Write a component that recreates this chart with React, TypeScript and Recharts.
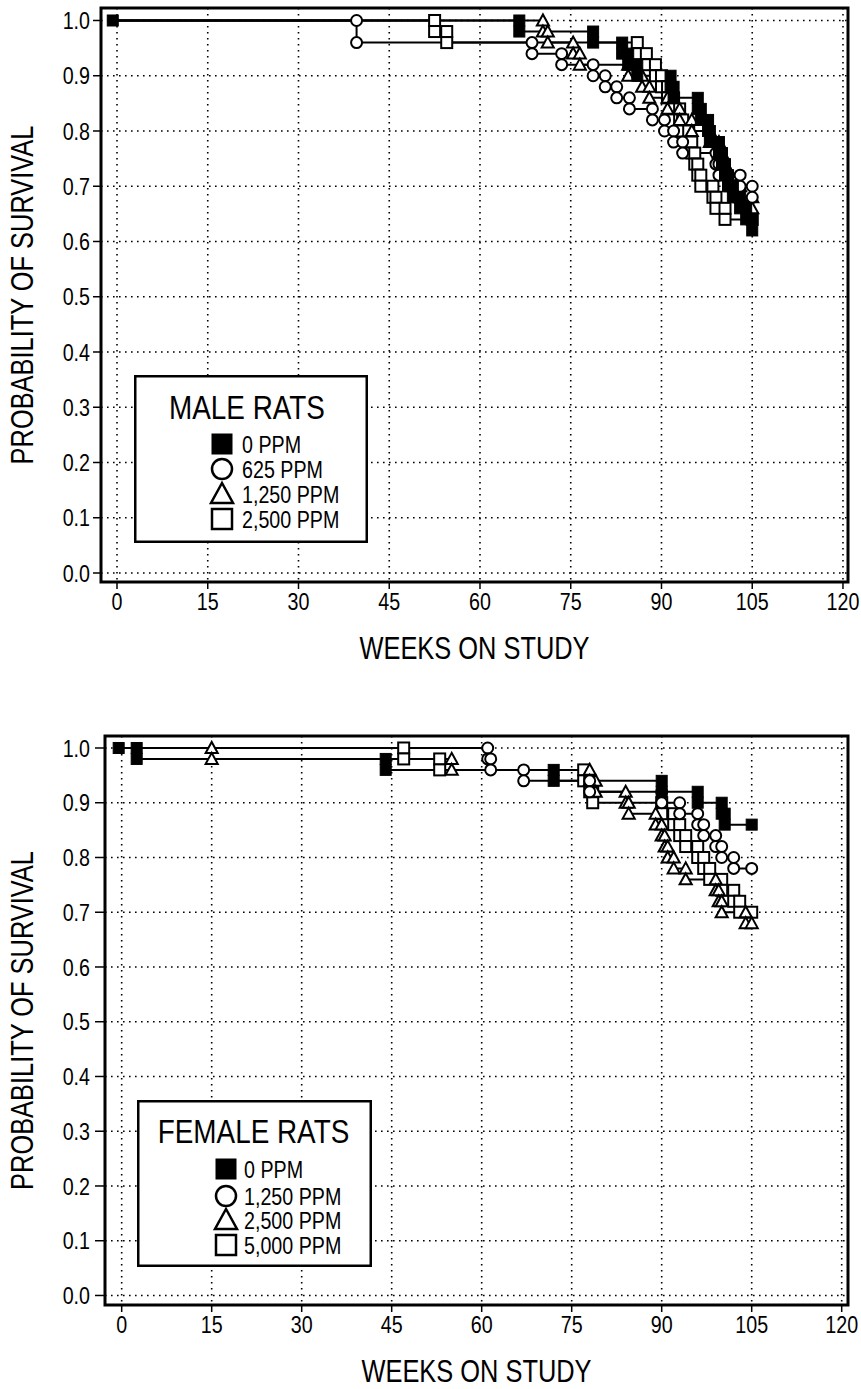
import React from 'react';
import { LineChart, Line, XAxis, YAxis, CartesianGrid, ReferenceArea, Legend } from 'recharts';

const FONT = "'Liberation Sans', Arial, sans-serif";
const SX = 0.82; // horizontal condensing of the sans font

// ---------- data ----------
const xTicks = [0, 15, 30, 45, 60, 75, 90, 105, 120];
const yTicks = [0, 0.1, 0.2, 0.3, 0.4, 0.5, 0.6, 0.7, 0.8, 0.9, 1.0];

// MALE RATS
const maleWeeks0 = [-0.7, 66.5, 78.7, 83.5, 84.5, 86, 91.5, 92, 96, 96.5, 97.7, 98, 99.5, 100, 100.5, 101, 101.8, 103, 104, 105];
const maleSurv0 = [1.0, 0.98, 0.96, 0.94, 0.92, 0.9, 0.88, 0.86, 0.84, 0.82, 0.8, 0.78, 0.76, 0.74, 0.72, 0.7, 0.68, 0.66, 0.64, 0.62];
const maleWeeks625 = [-0.7, 39.6, 68.6, 73.5, 78.7, 80.7, 82.6, 84.7, 88.5, 90.5, 92, 93.5, 99, 99.5, 103, 105];
const maleSurv625 = [1.0, 0.96, 0.94, 0.92, 0.9, 0.88, 0.86, 0.84, 0.82, 0.8, 0.78, 0.76, 0.74, 0.72, 0.7, 0.68];
const maleWeeks1250 = [-0.7, 70.4, 71.2, 75.4, 76.5, 84.5, 86.8, 88, 91, 93, 95, 98, 99.5, 100, 100.5, 101.5, 103, 105];
const maleSurv1250 = [1.0, 0.98, 0.96, 0.94, 0.92, 0.9, 0.88, 0.86, 0.84, 0.82, 0.8, 0.78, 0.76, 0.74, 0.72, 0.7, 0.68, 0.66];
const maleWeeks2500 = [-0.7, 52.5, 54.5, 86, 87.5, 89, 90, 91, 92, 93, 93.5, 94.5, 95, 95.5, 96, 96.5, 98.5, 99, 100.5, 105];
const maleSurv2500 = [1.0, 0.98, 0.96, 0.94, 0.92, 0.9, 0.88, 0.86, 0.84, 0.82, 0.8, 0.78, 0.76, 0.74, 0.72, 0.7, 0.68, 0.66, 0.64, 0.64];
const maleLabels = ['0 PPM', '625 PPM', '1,250 PPM', '2,500 PPM'];

// FEMALE RATS
const femWeeks0 = [-0.5, 2.5, 44, 72, 90, 96, 100, 100.5, 105];
const femSurv0 = [1.0, 0.98, 0.96, 0.94, 0.92, 0.9, 0.88, 0.86, 0.86];
const femWeeks1250 = [-0.5, 61, 61.5, 67, 78, 90, 93, 96, 97, 99, 100, 102, 105];
const femSurv1250 = [1.0, 0.98, 0.96, 0.94, 0.92, 0.9, 0.88, 0.86, 0.84, 0.82, 0.8, 0.78, 0.78];
const femWeeks2500 = [-0.5, 15, 55, 78, 79, 84, 84.5, 89, 90, 90.5, 91, 92, 94, 99, 99.5, 100, 104, 105];
const femSurv2500 = [1.0, 0.98, 0.96, 0.94, 0.92, 0.9, 0.88, 0.86, 0.84, 0.82, 0.8, 0.78, 0.76, 0.74, 0.72, 0.7, 0.68, 0.68];
const femWeeks5000 = [-0.5, 47, 53, 77, 78, 78.5, 90, 92, 93, 94, 96, 97, 98, 100, 102, 103, 105];
const femSurv5000 = [1.0, 0.98, 0.96, 0.94, 0.92, 0.9, 0.88, 0.86, 0.84, 0.82, 0.8, 0.78, 0.76, 0.74, 0.72, 0.7, 0.7];
const femLabels = ['0 PPM', '1,250 PPM', '2,500 PPM', '5,000 PPM'];

// ---------- helpers ----------
type Shape = 'filled' | 'circle' | 'triangle' | 'square';
const SHAPES: Shape[] = ['filled', 'circle', 'triangle', 'square'];

function buildSteps(weeks: number[], surv: number[]) {
  const pts: { x: number; y: number }[] = [];
  weeks.forEach((w, i) => {
    if (i > 0 && surv[i] !== surv[i - 1]) pts.push({ x: w, y: surv[i - 1] });
    pts.push({ x: w, y: surv[i] });
  });
  return pts;
}

// condensed text: scaled horizontally around its anchor point
function CText({
  x, y, size, anchor = 'start', dy, rotate = 0, children,
}: { x: number; y: number; size: number; anchor?: string; dy?: string; rotate?: number; children: React.ReactNode }) {
  return (
    <g transform={`translate(${x},${y}) rotate(${rotate}) scale(${SX},1)`}>
      <text x={0} y={0} dy={dy} textAnchor={anchor as any} fontFamily={FONT} fontSize={size} fill="#000">
        {children}
      </text>
    </g>
  );
}

function Marker({ shape, cx, cy, s, sw }: { shape: Shape; cx: number; cy: number; s: number; sw: number }) {
  const h = s / 2;
  if (shape === 'filled')
    return <rect x={cx - h} y={cy - h} width={s} height={s} fill="#000" stroke="#000" strokeWidth={1} />;
  if (shape === 'circle')
    return <circle cx={cx} cy={cy} r={h} fill="#fff" stroke="#000" strokeWidth={sw} />;
  if (shape === 'triangle')
    return (
      <polygon
        points={`${cx},${cy - h * 1.1} ${cx - h * 1.1},${cy + h * 0.9} ${cx + h * 1.1},${cy + h * 0.9}`}
        fill="#fff"
        stroke="#000"
        strokeWidth={sw}
      />
    );
  return <rect x={cx - h} y={cy - h} width={s} height={s} fill="#fff" stroke="#000" strokeWidth={sw} />;
}

function makeDot(shape: Shape, skipFirst: boolean) {
  return (p: any) => {
    const key = `dot-${shape}-${p.index}`;
    if ((skipFirst && p.index === 0) || p.cx == null || p.cy == null) return <g key={key} />;
    return (
      <g key={key}>
        <Marker shape={shape} cx={p.cx} cy={p.cy} s={11} sw={2} />
      </g>
    );
  };
}

const XTick = (p: any) => (
  <CText x={p.x} y={p.y} size={24} anchor="middle" dy="0.71em">
    {p.payload.value}
  </CText>
);
const YTick = (p: any) => (
  <CText x={p.x} y={p.y} size={24} anchor="end" dy="0.36em">
    {Number(p.payload.value).toFixed(1)}
  </CText>
);

function LegendBox({
  title, labels, w, h, titleX, titleY, markX, textX, rows,
}: {
  title: string; labels: string[]; w: number; h: number; titleX: number; titleY: number;
  markX: number; textX: number; rows: number[];
}) {
  return (
    <svg width={w} height={h} style={{ display: 'block', overflow: 'visible' }}>
      <rect x={1.25} y={1.25} width={w - 2.5} height={h - 2.5} fill="#fff" stroke="#000" strokeWidth={2.5} />
      <CText x={titleX} y={titleY} size={34} anchor="middle">
        {title}
      </CText>
      {labels.map((lab, i) => (
        <g key={lab}>
          <Marker shape={SHAPES[i]} cx={markX} cy={rows[i]} s={20} sw={2.5} />
          <CText x={textX} y={rows[i] + 8.5} size={24}>
            {lab}
          </CText>
        </g>
      ))}
    </svg>
  );
}

type PanelProps = {
  series: { weeks: number[]; surv: number[] }[];
  labels: string[];
  title: string;
  xDomain: [number, number];
  yDomain: [number, number];
  margin: { top: number; right: number; bottom: number; left: number };
  tickSize: number;
  tickMargin: number;
  legendPos: { left: number; top: number; w: number; h: number; titleX: number; titleY: number; markX: number; textX: number; rows: number[] };
};

function Panel({ series, labels, title, xDomain, yDomain, margin, tickSize, tickMargin, legendPos }: PanelProps) {
  const order = [3, 2, 1, 0];
  const lp = legendPos;
  return (
    <LineChart width={861} height={680} margin={margin}>
      <CartesianGrid stroke="#000" strokeWidth={1.6} strokeDasharray="1.6 4.4" />
      <XAxis
        type="number"
        dataKey="x"
        domain={xDomain}
        ticks={xTicks}
        allowDataOverflow
        height={78}
        axisLine={false}
        tickSize={7}
        tickMargin={4}
        tickLine={{ stroke: '#000', strokeWidth: 1.5 }}
        tick={<XTick />}
        label={{
          value: 'WEEKS ON STUDY',
          content: (p: any) => {
            const vb = p.viewBox || {};
            return (
              <CText x={vb.x + vb.width / 2} y={vb.y + 77} size={31} anchor="middle">
                WEEKS ON STUDY
              </CText>
            );
          },
        }}
      />
      <YAxis
        type="number"
        dataKey="y"
        domain={yDomain}
        ticks={yTicks}
        allowDataOverflow
        width={60}
        axisLine={false}
        tickSize={tickSize}
        tickMargin={tickMargin}
        tickLine={{ stroke: '#000', strokeWidth: 1.5 }}
        tick={<YTick />}
        label={{
          value: 'PROBABILITY OF SURVIVAL',
          content: (p: any) => {
            const vb = p.viewBox || {};
            const cy = vb.y + vb.height / 2;
            return (
              <CText x={33} y={cy} rotate={-90} size={31} anchor="middle">
                PROBABILITY OF SURVIVAL
              </CText>
            );
          },
        }}
      />
      <ReferenceArea
        x1={xDomain[0]}
        x2={xDomain[1]}
        y1={yDomain[0]}
        y2={yDomain[1]}
        fill="none"
        fillOpacity={0}
        stroke="#000"
        strokeWidth={3}
        ifOverflow="visible"
      />
      {order.map((i) => (
        <Line
          key={labels[i]}
          name={labels[i]}
          data={buildSteps(series[i].weeks, series[i].surv)}
          dataKey="y"
          type="linear"
          stroke="#000"
          strokeWidth={2}
          isAnimationActive={false}
          activeDot={false}
          dot={makeDot(SHAPES[i], i !== 0)}
        />
      ))}
      <Legend
        layout="horizontal"
        verticalAlign="middle"
        align="center"
        wrapperStyle={{ position: 'absolute', left: lp.left, top: lp.top, width: lp.w, height: lp.h, margin: 0, padding: 0 }}
        content={() => (
          <LegendBox
            title={title}
            labels={labels}
            w={lp.w}
            h={lp.h}
            titleX={lp.titleX}
            titleY={lp.titleY}
            markX={lp.markX}
            textX={lp.textX}
            rows={lp.rows}
          />
        )}
      />
    </LineChart>
  );
}

export default function App() {
  return (
    <div style={{ position: 'absolute', left: 0, top: 0, width: 861, height: 1389, background: '#fff' }}>
      <div style={{ position: 'absolute', left: 0, top: 0 }}>
        <Panel
          series={[
            { weeks: maleWeeks0, surv: maleSurv0 },
            { weeks: maleWeeks625, surv: maleSurv625 },
            { weeks: maleWeeks1250, surv: maleSurv1250 },
            { weeks: maleWeeks2500, surv: maleSurv2500 },
          ]}
          labels={maleLabels}
          title="MALE RATS"
          xDomain={[-2.645, 120.83]}
          yDomain={[-0.0163, 1.0226]}
          margin={{ top: 8, right: 13, bottom: 20, left: 41 }}
          tickSize={8}
          tickMargin={3}
          legendPos={{ left: 134, top: 375, w: 234, h: 168, titleX: 113, titleY: 44, markX: 88, textX: 108, rows: [69, 94, 119, 144] }}
        />
      </div>
      <div style={{ position: 'absolute', left: 0, top: 720 }}>
        <Panel
          series={[
            { weeks: femWeeks0, surv: femSurv0 },
            { weeks: femWeeks1250, surv: femSurv1250 },
            { weeks: femWeeks2500, surv: femSurv2500 },
            { weeks: femWeeks5000, surv: femSurv5000 },
          ]}
          labels={femLabels}
          title="FEMALE RATS"
          xDomain={[-2.78, 121.05]}
          yDomain={[-0.0174, 1.0219]}
          margin={{ top: 16, right: 13, bottom: 17, left: 45 }}
          tickSize={10}
          tickMargin={5}
          legendPos={{ left: 137, top: 380, w: 235, h: 167, titleX: 116.5, titleY: 43, markX: 89, textX: 107, rows: [69, 96, 120, 145] }}
        />
      </div>
    </div>
  );
}
